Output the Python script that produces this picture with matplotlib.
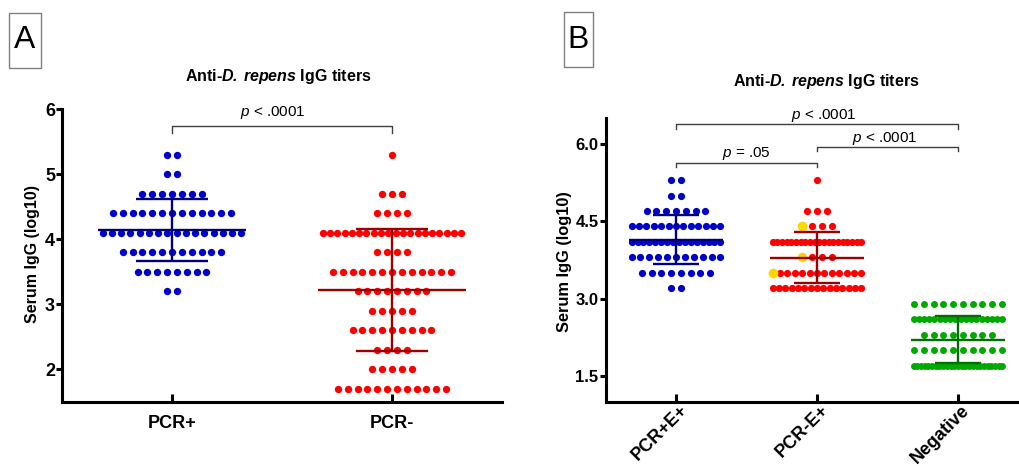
import numpy as np
import matplotlib
matplotlib.use("Agg")
import matplotlib.pyplot as plt
from matplotlib.patches import Rectangle
from matplotlib.transforms import ScaledTranslation

plt.rcParams['font.family'] = ['Liberation Sans', 'DejaVu Sans']
plt.rcParams['mathtext.fontset'] = 'custom'
plt.rcParams['mathtext.rm'] = 'Liberation Sans'
plt.rcParams['mathtext.it'] = 'Liberation Sans:italic'
plt.rcParams['mathtext.bf'] = 'Liberation Sans:bold'
plt.rcParams['mathtext.bfit'] = 'Liberation Sans:bold:italic'

# ---- data: titer levels (log10) and number of dogs at each level ----
pcr_pos_levels = [5.3, 5.0, 4.7, 4.4, 4.1, 3.8, 3.5, 3.2]
pcr_pos_counts = [2, 2, 7, 13, 16, 11, 8, 2]

pcr_neg_levels = [5.3, 4.7, 4.4, 4.1, 3.8, 3.5, 3.2, 2.9, 2.6, 2.3, 2.0, 1.7]
pcr_neg_counts = [1, 3, 4, 20, 4, 13, 8, 5, 9, 4, 5, 12]

pcr_neg_e_levels = [5.3, 4.7, 4.4, 4.1, 3.8, 3.5, 3.2]
pcr_neg_e_counts = [1, 3, 4, 20, 4, 13, 15]
pcr_neg_e_yellow = [0, 0, 1, 0, 1, 1, 0]   # highlighted dogs in each row

negative_levels = [2.9, 2.6, 2.3, 2.0, 1.7]
negative_counts = [10, 18, 8, 10, 25]

groups_a = ['PCR+', 'PCR-']
groups_b = ['PCR+E+', 'PCR-E+', 'Negative']

W, H = 1019, 466
fig = plt.figure(figsize=(W / 100, H / 100), dpi=100)


def px_axes(left, right, bottom, top):
    return fig.add_axes([left / W, 1 - bottom / H, (right - left) / W, (bottom - top) / H])


def row_offsets(n, step, max_width):
    if n == 1:
        return np.zeros(1)
    step = min(step, max_width / (n - 1))
    return (np.arange(n) - (n - 1) / 2) * step


def swarm(ax, x0, levels, counts, color, ecolor, step, size, yellow=None):
    for i, (lv, n) in enumerate(zip(levels, counts)):
        xs = x0 + row_offsets(n, step, 0.63)
        ny = yellow[i] if yellow else 0
        ax.scatter(xs[ny:], [lv] * (n - ny), s=size, color=color, lw=0, zorder=2)
        if ny:
            ax.scatter(xs[:ny], [lv] * ny, s=size * 1.8, color='#FFD700', lw=0, zorder=2)
    vals = np.repeat(levels, counts)
    m, sd = vals.mean(), vals.std(ddof=1)
    kw = dict(color=ecolor, lw=1.7, zorder=3, solid_capstyle='butt')
    ax.plot([x0 - 0.335, x0 + 0.335], [m, m], **kw)
    ax.plot([x0, x0], [m - sd, m + sd], **kw)
    ax.plot([x0 - 0.165, x0 + 0.165], [m + sd, m + sd], **kw)
    ax.plot([x0 - 0.165, x0 + 0.165], [m - sd, m - sd], **kw)


def bracket(ax, x1, x2, y, drop, label, tx, ty):
    ax.plot([x1, x1, x2, x2], [y - drop, y, y, y - drop], color='#404040', lw=1.0,
            clip_on=False)
    ax.text(tx, ty, label, ha='center', va='center', fontsize=11)


def style(ax, ysize):
    for s in ['top', 'right']:
        ax.spines[s].set_visible(False)
    for s in ['left', 'bottom']:
        ax.spines[s].set_linewidth(2.2)
    ax.tick_params(axis='y', direction='out', length=4, width=2.2, pad=1, labelsize=ysize)
    ax.tick_params(axis='x', direction='in', length=6, width=2.2, pad=10, labelsize=13)
    for t in ax.get_xticklabels() + ax.get_yticklabels():
        t.set_fontweight('bold')


# ---- panel A ----
axA = px_axes(62, 502, 401.5, 109)
swarm(axA, 0, pcr_pos_levels, pcr_pos_counts, '#0000CC', '#00007A', 0.0448, 28)
swarm(axA, 1, pcr_neg_levels, pcr_neg_counts, '#FF0000', '#9E0000', 0.0448, 28)
axA.set_xlim(-0.5, 1.5)
axA.set_ylim(1.5, 6)
axA.set_xticks([0, 1])
axA.set_xticklabels(groups_a)
axA.set_yticks([2, 3, 4, 5, 6])
style(axA, 13)
bracket(axA, 0, 1, 5.74, 0.11, r'$\mathit{p}$ < .0001', 0.46, 5.94)

# ---- panel B ----
axB = px_axes(605.5, 1028.5, 401.8, 118.2)
swarm(axB, 0, pcr_pos_levels, pcr_pos_counts, '#0000CC', '#00007A', 0.0695, 27)
swarm(axB, 1, pcr_neg_e_levels, pcr_neg_e_counts, '#FF0000', '#9E0000', 0.0695, 27,
      yellow=pcr_neg_e_yellow)
swarm(axB, 2, negative_levels, negative_counts, '#00A800', '#006E00', 0.0695, 25)
axB.set_xlim(-0.5, 2.5)
axB.set_ylim(1.0, 6.5)
axB.set_xticks([0, 1, 2])
axB.set_xticklabels(groups_b, rotation=45, ha='right', va='top', rotation_mode='anchor')
axB.set_yticks([1.5, 3.0, 4.5, 6.0])
axB.yaxis.set_major_formatter(matplotlib.ticker.FormatStrFormatter('%.1f'))
style(axB, 12)
axB.tick_params(axis='x', pad=0)
shift = ScaledTranslation(3 / 100, 0, fig.dpi_scale_trans)
for t in axB.get_xticklabels():
    t.set_transform(t.get_transform() + shift)
bracket(axB, 0, 2, 6.38, 0.08, r'$\mathit{p}$ < .0001', 1.05, 6.56)
bracket(axB, 1, 2, 5.94, 0.07, r'$\mathit{p}$ < .0001', 1.48, 6.10)
bracket(axB, 0, 1, 5.63, 0.07, r'$\mathit{p}$ = .05', 0.50, 5.81)

# ---- titles, axis labels, panel letters ----
title = r'Anti-$\mathbfit{D.\:repens}$ IgG titers'
fig.text(278 / W, 1 - 76 / H, title, ha='center', va='center', fontsize=11.5, fontweight='bold')
fig.text(826 / W, 1 - 81.5 / H, title, ha='center', va='center', fontsize=11.5, fontweight='bold')
fig.text(33 / W, 1 - 254 / H, 'Serum IgG (log10)', rotation=90, ha='center', va='center',
         fontsize=11.5, fontweight='bold')
fig.text(565 / W, 1 - 262 / H, 'Serum IgG (log10)', rotation=90, ha='center', va='center',
         fontsize=11.8, fontweight='bold')

for (x0, y0, x1, y1), letter in [((9.3, 13.3, 40.7, 67.7), 'A'), ((564, 12.3, 592.7, 66.7), 'B')]:
    fig.add_artist(Rectangle((x0 / W, 1 - y1 / H), (x1 - x0) / W, (y1 - y0) / H,
                             transform=fig.transFigure, fill=False, edgecolor='#808080', lw=1))
    fig.text((x0 + x1) / 2 / W, 1 - (y0 + y1) / 2 / H, letter, ha='center', va='center',
             fontsize=23)

fig.savefig('out.png', dpi=100)
